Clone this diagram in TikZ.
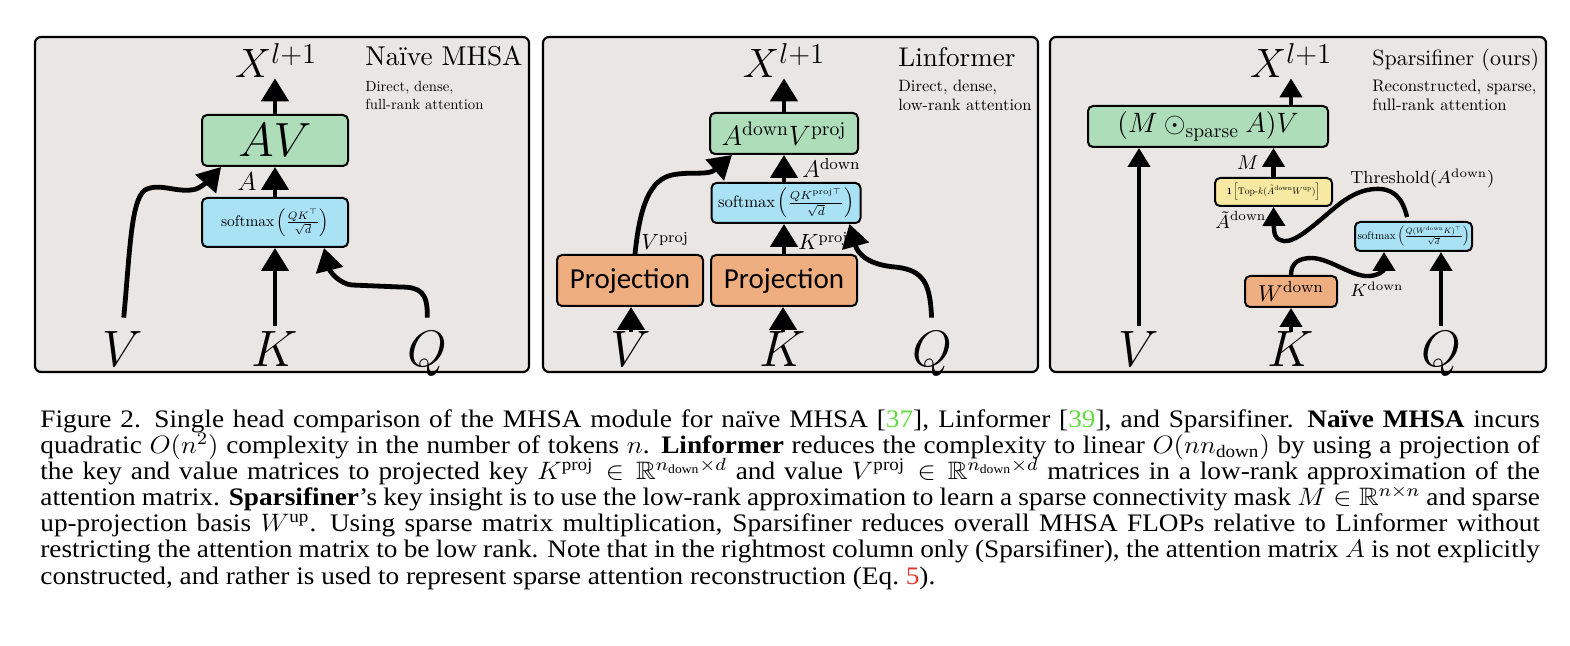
\RequirePackage{fix-cm}
\documentclass[tikz,border=0pt]{standalone}
\usepackage{amsmath,amssymb}
\usepackage{fontspec}
\usepackage{graphicx}
\usetikzlibrary{arrows.meta}
\newfontfamily\capfont{Liberation Serif}
\newfontfamily\projfont{Carlito}
\definecolor{panelbg}{HTML}{E9E6E3}
\definecolor{gbox}{HTML}{AEDDBA}
\definecolor{bbox}{HTML}{A9E1F5}
\definecolor{obox}{HTML}{EFAE7F}
\definecolor{ybox}{HTML}{F7E8A2}
\definecolor{citeg}{HTML}{62DC42}
\definecolor{eqred}{HTML}{E8342A}
\newcommand{\capline}[3]{\node[anchor=base west,inner sep=0pt] (#1) at (40,#2) {\capfont\fontsize{12.6}{14}\selectfont\scalebox{1.082}[1]{\makebox[693pt][s]{#3}}};}
\newcommand{\tsc}[2]{\scalebox{#1}{\fontsize{10}{12}\selectfont #2}}
\newcommand{\fitw}[2]{\resizebox{#1}{!}{\fontsize{10}{12}\selectfont #2}}
\begin{document}
\begin{tikzpicture}[x=0.5pt,y=-0.5pt,
  panel/.style={draw=black,line width=1.1pt,rounded corners=3pt,fill=panelbg},
  box/.style={draw=black,line width=1pt,rounded corners=2.5pt,inner sep=0pt,align=center},
  arr/.style={line width=2.4pt,-{Triangle[width=13.5pt,length=11.5pt]}},
  arrs/.style={line width=2.2pt,-{Triangle[width=11pt,length=9.5pt]}},
  big/.style={inner sep=3pt,anchor=base,font=\fontsize{25.6}{30}\selectfont},
  bigt/.style={big,inner sep=0pt},
  xl/.style={inner sep=0pt,anchor=base,font=\fontsize{20.5}{24}\selectfont},
  ttl/.style={inner sep=0pt,anchor=base west},
  lab/.style={inner sep=0pt,anchor=base west},
  ]
\useasboundingbox (0,0) rectangle (1570,646);
\fill[white] (0,0) rectangle (1570,646);

% ---------------- Panel 1 ----------------
\draw[panel] (35,37) rectangle (529,372);
\node[box,fill=gbox,minimum width=73pt,minimum height=25.5pt] (av1) at (275,140.5) {\fontsize{24}{24}\selectfont $AV$};
\node[box,fill=bbox,minimum width=73pt,minimum height=24.5pt] (sm1) at (275,222.5) {\fitw{54pt}{softmax$\,\left(\frac{QK^{\top}}{\sqrt{d}}\right)$}};
\node[xl] (x1) at (276,78) {$X^{l+1}$};
\node[lab,anchor=base,font=\fontsize{13}{13}\selectfont] (a1) at (247,191) {$A$};
\node[big] (v1) at (123,367) {$V$};
\node[big] (k1) at (275,367) {$K$};
\node[big] (q1) at (427,367) {$Q$};
\node[ttl] (t1) at (365,66) {\tsc{1.36}{Naïve MHSA}};
\node[ttl] (s1a) at (365,92) {\tsc{0.735}{Direct, dense,}};
\node[ttl] (s1b) at (365,110) {\tsc{0.735}{full-rank attention}};
\draw[arr] (av1.north) -- (av1.north |- x1.south);
\draw[arr] (sm1.north) -- (av1.south);
\draw[arr] (k1.north) -- (sm1.south);
\draw[arr,shorten <=4pt] (v1.north) .. controls (130,250) and (131,200) .. (145,190) .. controls (160,182) and (178,194) .. (196,189) .. controls (204,186) and (212,177) .. ([xshift=10pt]av1.south west);
\draw[arr,shorten <=4pt] (q1.north) .. controls (428,292) and (420,287) .. (400,287) -- (352,285) .. controls (340,284) and (330,272) .. ([xshift=-12.5pt]sm1.south east);

% ---------------- Panel 2 ----------------
\draw[panel] (543,37) rectangle (1038,372);
\node[box,fill=gbox,minimum width=74pt,minimum height=20.5pt] (av2) at (784,133.5) {\fontsize{14}{14}\selectfont $A^{\mathrm{down}}V^{\mathrm{proj}}$};
\node[box,fill=bbox,minimum width=74.5pt,minimum height=20pt] (sm2) at (786,203) {\fitw{68pt}{softmax$\,\left(\frac{QK^{\mathrm{proj}\top}}{\sqrt{d}}\right)$}};
\node[box,fill=obox,minimum width=73pt,minimum height=25.5pt,font=\projfont\fontsize{14.5}{14.5}\selectfont] (p1) at (630,280.5) {Projection};
\node[box,fill=obox,minimum width=73pt,minimum height=25.5pt,font=\projfont\fontsize{14.5}{14.5}\selectfont] (p2) at (784,280.5) {Projection};
\node[xl] (x2) at (784,78) {$X^{l+1}$};
\node[lab,font=\fontsize{12}{12}\selectfont] (ad2) at (802,178) {$A^{\mathrm{down}}$};
\node[lab,font=\fontsize{11}{11}\selectfont] (vp2) at (641,250) {$V^{\mathrm{proj}}$};
\node[lab,font=\fontsize{11}{11}\selectfont] (kp2) at (798,250) {$K^{\mathrm{proj}}$};
\node[bigt] (v2) at (631,367) {$V$};
\node[bigt] (k2) at (783,367) {$K$};
\node[big] (q2) at (932,367) {$Q$};
\node[ttl] (t2) at (898,67) {\tsc{1.352}{Linformer}};
\node[ttl] (s2a) at (898,92) {\tsc{0.823}{Direct, dense,}};
\node[ttl] (s2b) at (898,111) {\tsc{0.823}{low-rank attention}};
\draw[arr] (av2.north) -- (av2.north |- x2.south);
\draw[arr] (av2.south |- sm2.north) -- (av2.south);
\draw[arr] (p2.north) -- (p2.north |- sm2.south);
\draw[arr] (v2.north) -- (v2.north |- p1.south);
\draw[arr] (k2.north) -- (k2.north |- p2.south);
\draw[arr] ([xshift=2.5pt]p1.north) .. controls (640,205) and (650,180) .. (672,175) .. controls (692,171) and (708,176) .. ([xshift=11.5pt]av2.south west);
\draw[arr,shorten <=4pt] (q2.north) .. controls (930,285) and (925,270) .. (895,267) .. controls (870,265) and (858,255) .. ([xshift=-6pt]sm2.south east);

% ---------------- Panel 3 ----------------
\draw[panel] (1050,37) rectangle (1546,372);
\node[box,fill=gbox,minimum width=120pt,minimum height=20.5pt] (av3) at (1208,126.5) {\fontsize{14}{14}\selectfont $(M\odot_{\mathrm{sparse}}A)V$};
\node[box,fill=ybox,minimum width=58.5pt,minimum height=14pt] (tk) at (1273.5,192) {\fitw{46.5pt}{$\mathbf{1}\left[\mathrm{Top}\text{-}k(\tilde{A}^{\mathrm{down}}W^{\mathrm{up}})\right]$}};
\node[box,fill=bbox,minimum width=58.5pt,minimum height=14.5pt] (sm3) at (1413.5,236.5) {\fitw{56pt}{softmax$\,\left(\frac{Q(W^{\mathrm{down}}K)^{\top}}{\sqrt{d}}\right)$}};
\node[box,fill=obox,minimum width=46pt,minimum height=15.5pt] (wd) at (1291,291.5) {\fontsize{11.5}{12}\selectfont $W^{\mathrm{down}}$};
\node[xl] (x3) at (1291,78) {$X^{l+1}$};
\node[lab,anchor=base,font=\fontsize{10}{10}\selectfont] (m3) at (1248,170) {$M$};
\node[lab,font=\fontsize{9.5}{10}\selectfont] (at3) at (1215,229) {$\tilde{A}^{\mathrm{down}}$};
\node[lab,font=\fontsize{8.8}{9}\selectfont] (th3) at (1350,184) {Threshold$(A^{\mathrm{down}})$};
\node[lab,font=\fontsize{8.8}{9}\selectfont] (kd3) at (1350,297) {$K^{\mathrm{down}}$};
\node[big] (v3) at (1139,367) {$V$};
\node[bigt] (k3) at (1291,367) {$K$};
\node[big] (q3) at (1441,367) {$Q$};
\node[ttl] (t3) at (1372,66) {\tsc{1.1}{Sparsifiner (ours)}};
\node[ttl] (s3a) at (1372,92) {\tsc{0.836}{Reconstructed, sparse,}};
\node[ttl] (s3b) at (1372,111) {\tsc{0.836}{full-rank attention}};
\draw[arrs] (x3.south |- av3.north) -- (x3.south);
\draw[arrs] (v3.north) -- (v3.north |- av3.south);
\draw[arrs] (tk.north) -- (tk.north |- av3.south);
\draw[arrs] (k3.north) -- (k3.north |- wd.south);
\draw[arrs] (q3.north) -- (q3.north |- sm3.south);
\draw[arrs,shorten <=2pt] ([xshift=-2.75pt]sm3.north) .. controls (1402,196) and (1392,188) .. (1375,189) .. controls (1355,190) and (1340,203) .. (1325,216) .. controls (1305,233) and (1290,245) .. (1280,240) .. controls (1276,238) and (1274,236) .. (tk.south);
\draw[arrs] (wd.north) .. controls (1291,262) and (1300,258) .. (1312,258) .. controls (1330,259) and (1348,274) .. (1365,276) .. controls (1378,277) and (1384,270) .. ([xshift=15pt]sm3.south west);

% ---------------- Caption ----------------
\capline{c1}{427.5}{Figure 2.\enskip Single head comparison of the MHSA module for naïve MHSA [\textcolor{citeg}{37}], Linformer [\textcolor{citeg}{39}], and Sparsifiner.\enskip \textbf{Naïve MHSA} incurs}
\capline{c2}{453.6}{quadratic $O(n^2)$ complexity in the number of tokens $n$. \textbf{Linformer} reduces the complexity to linear $O(nn_{\text{down}})$ by using a projection of}
\capline{c3}{479.7}{the key and value matrices to projected key $K^{\text{proj}}\in\mathbb{R}^{n_{\text{down}}\times d}$ and value $V^{\text{proj}}\in\mathbb{R}^{n_{\text{down}}\times d}$ matrices in a low-rank approximation of the}
\capline{c4}{505.8}{attention matrix. \textbf{Sparsifiner}’s key insight is to use the low-rank approximation to learn a sparse connectivity mask $M\in\mathbb{R}^{n\times n}$ and sparse}
\capline{c5}{531.9}{up-projection basis $W^{\text{up}}$.\enskip Using sparse matrix multiplication, Sparsifiner reduces overall MHSA FLOPs relative to Linformer without}
\capline{c6}{558}{restricting the attention matrix to be low rank. Note that in the rightmost column only (Sparsifiner), the attention matrix $A$ is not explicitly}
\node[anchor=base west,inner sep=0pt] (c7) at (40,584.1) {\capfont\fontsize{12.6}{14}\selectfont\scalebox{1.082}[1]{constructed, and rather is used to represent sparse attention reconstruction (Eq.~\textcolor{eqred}{5}).}};
\end{tikzpicture}
\end{document}
